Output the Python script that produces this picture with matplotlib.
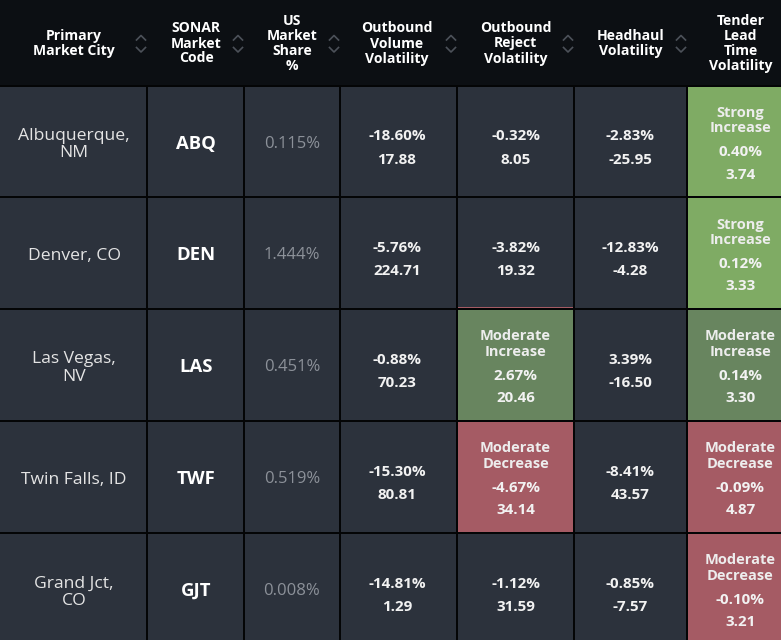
import matplotlib.pyplot as plt
from matplotlib.patches import Rectangle

plt.rcParams['font.family'] = ['Open Sans', 'DejaVu Sans']

# ---- table content ----
headers = ["Primary\nMarket City", "SONAR\nMarket\nCode", "US\nMarket\nShare\n%",
           "Outbound\nVolume\nVolatility", "Outbound\nReject\nVolatility",
           "Headhaul\nVolatility", "Tender\nLead\nTime\nVolatility"]
cities = ["Albuquerque,\nNM", "Denver, CO", "Las Vegas,\nNV", "Twin Falls, ID", "Grand Jct,\nCO"]
codes = ["ABQ", "DEN", "LAS", "TWF", "GJT"]
share = ["0.115%", "1.444%", "0.451%", "0.519%", "0.008%"]
outbound_vol_pct = [-18.60, -5.76, -0.88, -15.30, -14.81]
outbound_vol_val = [17.88, 224.71, 70.23, 80.81, 1.29]
reject_pct = [-0.32, -3.82, 2.67, -4.67, -1.12]
reject_val = [8.05, 19.32, 20.46, 34.14, 31.59]
reject_label = ["", "", "Moderate\nIncrease", "Moderate\nDecrease", ""]
headhaul_pct = [-2.83, -12.83, 3.39, -8.41, -0.85]
headhaul_val = [-25.95, -4.28, -16.50, 43.57, -7.57]
tender_pct = [0.40, 0.12, 0.14, -0.09, -0.10]
tender_val = [3.74, 3.33, 3.30, 4.87, 3.21]
tender_label = ["Strong\nIncrease", "Strong\nIncrease", "Moderate\nIncrease",
                "Moderate\nDecrease", "Moderate\nDecrease"]

# ---- layout (pixels) ----
col_left = [0, 148, 245, 341, 458, 575, 688]
col_right = [146, 243, 339, 456, 573, 686, 781]
col_text = [74, 196, 292, 397, 515.5, 630.5, 740.5]
row_top = [87, 198, 310, 422, 534]
row_bot = [196, 308, 420, 532, 644]
head_bot = 85

BORDER = '#040506'
HEAD_BG = '#0c0f13'
CELL_BG = '#2c323c'
TXT = '#f2f2f2'
CITY_TXT = '#e4e4e4'
SHARE_TXT = '#8c9199'
ARROW = '#4c5159'
fills = {"Strong\nIncrease": '#7fab64',
         "Moderate\nIncrease": '#68855f',
         "Moderate\nDecrease": '#a55b64'}

fig = plt.figure(figsize=(7.81, 6.40), dpi=100)
fig.patch.set_facecolor(BORDER)
ax = fig.add_axes([0, 0, 1, 1])
ax.set_xlim(0, 781)
ax.set_ylim(640, 0)
ax.axis('off')

# header band
ax.add_patch(Rectangle((0, 0), 781, head_bot, color=HEAD_BG, lw=0))
for j, h in enumerate(headers):
    lines = h.split('\n')
    n = len(lines)
    for k, ln in enumerate(lines):
        y = 43.5 + (k - (n - 1) / 2) * 15
        ax.text(col_text[j], y, ln, ha='center', va='center', color='white',
                fontsize=10.1, fontweight='bold')
    if j < 6:
        cx = col_right[j] - 5
        ax.plot([cx - 4.5, cx, cx + 4.5], [40, 35.5, 40], color=ARROW, lw=1.2)
        ax.plot([cx - 4.5, cx, cx + 4.5], [47.5, 52, 47.5], color=ARROW, lw=1.2)


def cell(j, i, color):
    ax.add_patch(Rectangle((col_left[j], row_top[i]), col_right[j] - col_left[j],
                           row_bot[i] - row_top[i], color=color, lw=0))


def value_cell(j, i, pct, val, label):
    cy = (row_top[i] + row_bot[i]) / 2
    cell(j, i, fills.get(label, CELL_BG))
    if label:
        a, b = label.split('\n')
        ax.text(col_text[j], cy - 28.5, a, ha='center', va='center', color='#ededed',
                fontsize=10.5, fontweight='bold')
        ax.text(col_text[j], cy - 13, b, ha='center', va='center', color='#ededed',
                fontsize=10.5, fontweight='bold')
        y1, y2 = cy + 11, cy + 33.5
    else:
        y1, y2 = cy - 5, cy + 18
    ax.text(col_text[j], y1, f"{pct:.2f}%", ha='center', va='center', color=TXT,
            fontsize=10.9, fontweight='bold')
    ax.text(col_text[j], y2, f"{val:.2f}", ha='center', va='center', color=TXT,
            fontsize=10.9, fontweight='bold')


for i in range(5):
    cy = (row_top[i] + row_bot[i]) / 2
    cell(0, i, CELL_BG)
    ax.text(col_text[0], cy + 3, cities[i], ha='center', va='center', color=CITY_TXT,
            fontsize=12.6, linespacing=1.1)
    cell(1, i, CELL_BG)
    ax.text(col_text[1], cy + 2, codes[i], ha='center', va='center', color='white',
            fontsize=13.3, fontweight='bold')
    cell(2, i, CELL_BG)
    ax.text(col_text[2], cy + 2, share[i], ha='center', va='center', color=SHARE_TXT,
            fontsize=12)
    value_cell(3, i, outbound_vol_pct[i], outbound_vol_val[i], "")
    value_cell(4, i, reject_pct[i], reject_val[i], reject_label[i])
    value_cell(5, i, headhaul_pct[i], headhaul_val[i], "")
    value_cell(6, i, tender_pct[i], tender_val[i], tender_label[i])

# thin red edge under the Denver reject cell
ax.add_patch(Rectangle((col_left[4], 306.5), col_right[4] - col_left[4], 1.6,
                       color='#a55b64', lw=0))

fig.savefig('out.png', dpi=100, facecolor=fig.get_facecolor())
